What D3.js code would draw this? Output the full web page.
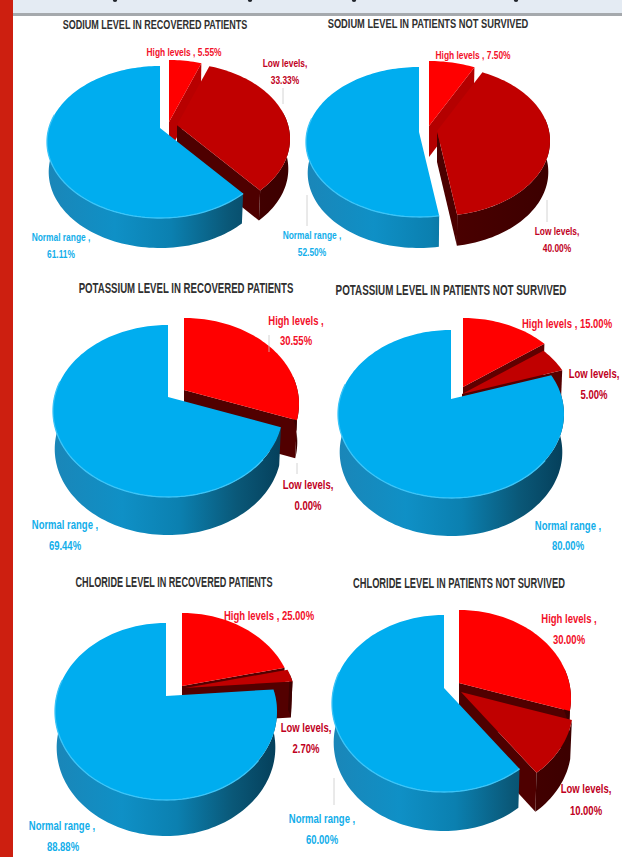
<!DOCTYPE html>
<html>
<head>
<meta charset="utf-8">
<script src="https://cdnjs.cloudflare.com/ajax/libs/d3/7.8.5/d3.min.js"></script>
<style>
  html, body { margin: 0; padding: 0; background: #fff; }
  svg { display: block; }
  text { font-family: "Liberation Sans", sans-serif; font-weight: 700; }
</style>
</head>
<body>
<div id="chart"></div>
<script>
// Serum electrolyte distribution, percentages per patient group
const categories = ["High levels", "Low levels", "Normal range"];
const sodiumRecovered = [5.55, 33.33, 61.11];
const sodiumNotSurvived = [7.5, 40, 52.5];
const potassiumRecovered = [30.55, 0, 69.44];
const potassiumNotSurvived = [15, 5, 80];
const chlorideRecovered = [25, 2.7, 88.88];
const chlorideNotSurvived = [30, 10, 60];

const W = 622, H = 857;
const FILL = ["#ff0000", "#c00000", "#00adef"];
const LABEL = ["#f2102a", "#c00022", "#12aeea"];
const CONDENSE = 0.73;

// Geometry of each 3D pie: apex, half width, back and front reach of the top
// face, wall height, and how far the high and low wedges are pulled out.
const panels = [
  { title: "SODIUM LEVEL IN RECOVERED PATIENTS", values: sodiumRecovered,
    cx: 160, cy: 128, rx: 113, back: 62, front: 90, depth: 30,
    pull: [[9, -6], [17, -3], [0, 0]], titleAt: [155, 29], titleW: 185, titleSize: 12, size: 11.5,
    labels: [[[184, 56]], [[285, 67], [285, 84]], [[61, 241], [61, 258]]],
    leaders: [[283, 88, 283, 104]] },
  { title: "SODIUM LEVEL IN PATIENTS NOT SURVIVED", values: sodiumNotSurvived,
    cx: 419, cy: 132, rx: 113, back: 65, front: 85, depth: 31,
    pull: [[10, -6], [18, -1], [0, 0]], titleAt: [428, 28], titleW: 201, titleSize: 12, size: 11.5,
    labels: [[[473, 59]], [[557, 235], [557, 252]], [[312, 239], [312, 256]]],
    leaders: [[547, 200, 547, 222], [307, 195, 307, 226]] },
  { title: "POTASSIUM LEVEL IN RECOVERED PATIENTS", values: potassiumRecovered,
    cx: 168, cy: 397, rx: 115, back: 72, front: 100, depth: 38,
    pull: [[16, -7], [16, -7], [0, 0]], titleAt: [186, 293], titleW: 215, titleSize: 14, size: 13,
    labels: [[[296, 325], [296, 345]], [[308, 489], [308, 510]], [[65, 529], [65, 550]]],
    leaders: [[269, 335, 269, 352], [297, 463, 297, 474]] },
  { title: "POTASSIUM LEVEL IN PATIENTS NOT SURVIVED", values: potassiumNotSurvived,
    cx: 451, cy: 399, rx: 113, back: 69, front: 99, depth: 38,
    pull: [[12, -12], [11, -5], [0, 0]], titleAt: [451, 295], titleW: 231, titleSize: 14, size: 13,
    labels: [[[567, 328]], [[594, 378], [594, 399]], [[568, 530], [568, 550]]],
    leaders: [] },
  { title: "CHLORIDE LEVEL IN RECOVERED PATIENTS", values: chlorideRecovered,
    cx: 166, cy: 696, rx: 111, back: 73, front: 104, depth: 36,
    pull: [[16, -10], [19, -8], [0, 0]], titleAt: [174, 587], titleW: 197, titleSize: 14, size: 13,
    labels: [[[269, 620]], [[306, 732], [306, 753]], [[62, 830], [63, 851]]],
    leaders: [] },
  { title: "CHLORIDE LEVEL IN PATIENTS NOT SURVIVED", values: chlorideNotSurvived,
    cx: 444, cy: 688, rx: 112, back: 73, front: 104, depth: 39,
    pull: [[15, -5], [17, 4], [0, 0]], titleAt: [459, 588], titleW: 212, titleSize: 14, size: 13,
    labels: [[[569, 623], [569, 644]], [[586, 793], [586, 815]], [[322, 823], [322, 844]]],
    leaders: [[334, 778, 334, 805]] }
];

const svg = d3.select("#chart").append("svg").attr("width", W).attr("height", H);
const defs = svg.append("defs");

// Page furniture: side band and the header strip above the charts
svg.append("rect").attr("width", W).attr("height", H).attr("fill", "#fff");
svg.append("rect").attr("x", 13).attr("width", W - 13).attr("height", 13).attr("fill", "#e4ebf3");
svg.append("rect").attr("x", 13).attr("y", 13).attr("width", W - 13).attr("height", 3).attr("fill", "#a5a9ad");
svg.append("rect").attr("width", 13).attr("height", H).attr("fill", "#cd1f10");
[115, 250, 354, 516].forEach(x => svg.append("ellipse")
  .attr("cx", x).attr("cy", 0).attr("rx", 2.2).attr("ry", 2).attr("fill", "#20242a"));

const pie = d3.pie().sort(null).startAngle(0).endAngle(2 * Math.PI);
const outline = d3.line();

// Perspective view of a tilted disc: the near edge reaches further than the far edge
function projector(p) {
  const k = (p.front - p.back) / (p.front + p.back);
  const A = 2 * p.front * p.back / (p.front + p.back);
  const B = p.rx * Math.sqrt(1 - k * k);
  return (angle, level) => {
    const u = Math.sin(angle), v = -Math.cos(angle);
    const s = 1 / (1 - k * v);
    const shrink = level ? 0.985 : 1;
    return [p.cx + B * u * s * shrink, p.cy + A * v * s + (level ? p.depth : 0)];
  };
}

function arcAngles(a0, a1) {
  const n = Math.max(2, Math.ceil((a1 - a0) / 0.03));
  return d3.range(n + 1).map(i => a0 + (a1 - a0) * i / n);
}

// Text is set in a regular face and squeezed horizontally about its centre
function narrowText(parent, x, y, str, size, fill, squeeze) {
  const t = parent.append("text")
    .attr("text-anchor", "middle").attr("font-size", size)
    .attr("fill", fill).text(str);
  const f = squeeze(t.node().getComputedTextLength());
  t.attr("transform", `translate(${x},${y}) scale(${f},1)`);
}

// Radial faces catch less light the further they turn towards the right
const radialShade = d3.scaleLinear()
  .domain([0.45, 1.0, 3.2])
  .range(["#b80000", "#560000", "#4a0000"])
  .clamp(true);

panels.forEach((p, pi) => {
  const project = projector(p);
  const g = svg.append("g");

  const blue = defs.append("linearGradient").attr("id", "wallBlue" + pi)
    .attr("gradientUnits", "userSpaceOnUse")
    .attr("x1", p.cx - p.rx).attr("x2", p.cx + p.rx).attr("y1", 0).attr("y2", 0);
  [[0, "#1a86b8"], [0.3, "#0f90c6"], [0.55, "#0b80b0"], [0.8, "#0a5878"], [1, "#053f5a"]]
    .forEach(([o, c]) => blue.append("stop").attr("offset", o).attr("stop-color", c));

  const red = defs.append("linearGradient").attr("id", "wallRed" + pi)
    .attr("gradientUnits", "userSpaceOnUse")
    .attr("x1", p.cx - p.rx).attr("x2", p.cx + p.rx).attr("y1", 0).attr("y2", 0);
  [[0, "#5c0000"], [1, "#3c0000"]]
    .forEach(([o, c]) => red.append("stop").attr("offset", o).attr("stop-color", c));

  // Wedges go back to front: high, low, then the large normal-range slice
  pie(p.values).forEach((d, i) => {
    if (d.value === 0) return;
    const [dx, dy] = p.pull[i];
    const slice = g.append("g").attr("transform", `translate(${dx},${dy})`);
    const a0 = d.startAngle, a1 = d.endAngle;
    const apexTop = [p.cx, p.cy], apexBottom = [p.cx, p.cy + p.depth];
    const wallFill = i === 2 ? `url(#wallBlue${pi})` : `url(#wallRed${pi})`;

    const radial = a => slice.append("path")
      .attr("d", outline([apexTop, project(a, 0), project(a, 1), apexBottom]) + "Z")
      .attr("fill", i === 2 ? "#0a5f85" : radialShade(a));
    if (a0 > Math.PI) radial(a0);
    if (a1 < Math.PI) radial(a1);

    const from = Math.max(a0, 1.4), to = Math.min(a1, 4.9);
    if (to > from) {
      const span = arcAngles(from, to);
      slice.append("path")
        .attr("d", outline(span.map(a => project(a, 0)).concat(span.slice().reverse().map(a => project(a, 1)))) + "Z")
        .attr("fill", wallFill);
    }

    const rim = arcAngles(a0, a1).map(a => project(a, 0));
    slice.append("path")
      .attr("d", outline([apexTop].concat(rim)) + "Z")
      .attr("fill", FILL[i]);

    if (i === 2) {
      const lit = arcAngles(Math.max(a0, 2.3), 4.9).map(a => project(a, 0));
      slice.append("path").attr("d", outline(lit))
        .attr("fill", "none").attr("stroke", "#3cc4f7").attr("stroke-width", 1.3);
    }
  });

  p.leaders.forEach(l => g.append("line")
    .attr("x1", l[0]).attr("y1", l[1]).attr("x2", l[2]).attr("y2", l[3])
    .attr("stroke", "#c9c9c9").attr("stroke-width", 0.8));

  narrowText(g, p.titleAt[0], p.titleAt[1], p.title, p.titleSize, "#2f2f2f", len => p.titleW / len);

  // Data labels: name on the first line, value on the second unless they share one
  categories.forEach((cat, i) => {
    const name = cat + (i === 1 ? "," : " ,");
    const pct = p.values[i].toFixed(2) + "%";
    const spots = p.labels[i];
    const lines = spots.length === 1 ? [name + " " + pct] : [name, pct];
    lines.forEach((line, li) =>
      narrowText(g, spots[li][0], spots[li][1], line, p.size, LABEL[i], () => CONDENSE));
  });
});
</script>
</body>
</html>
